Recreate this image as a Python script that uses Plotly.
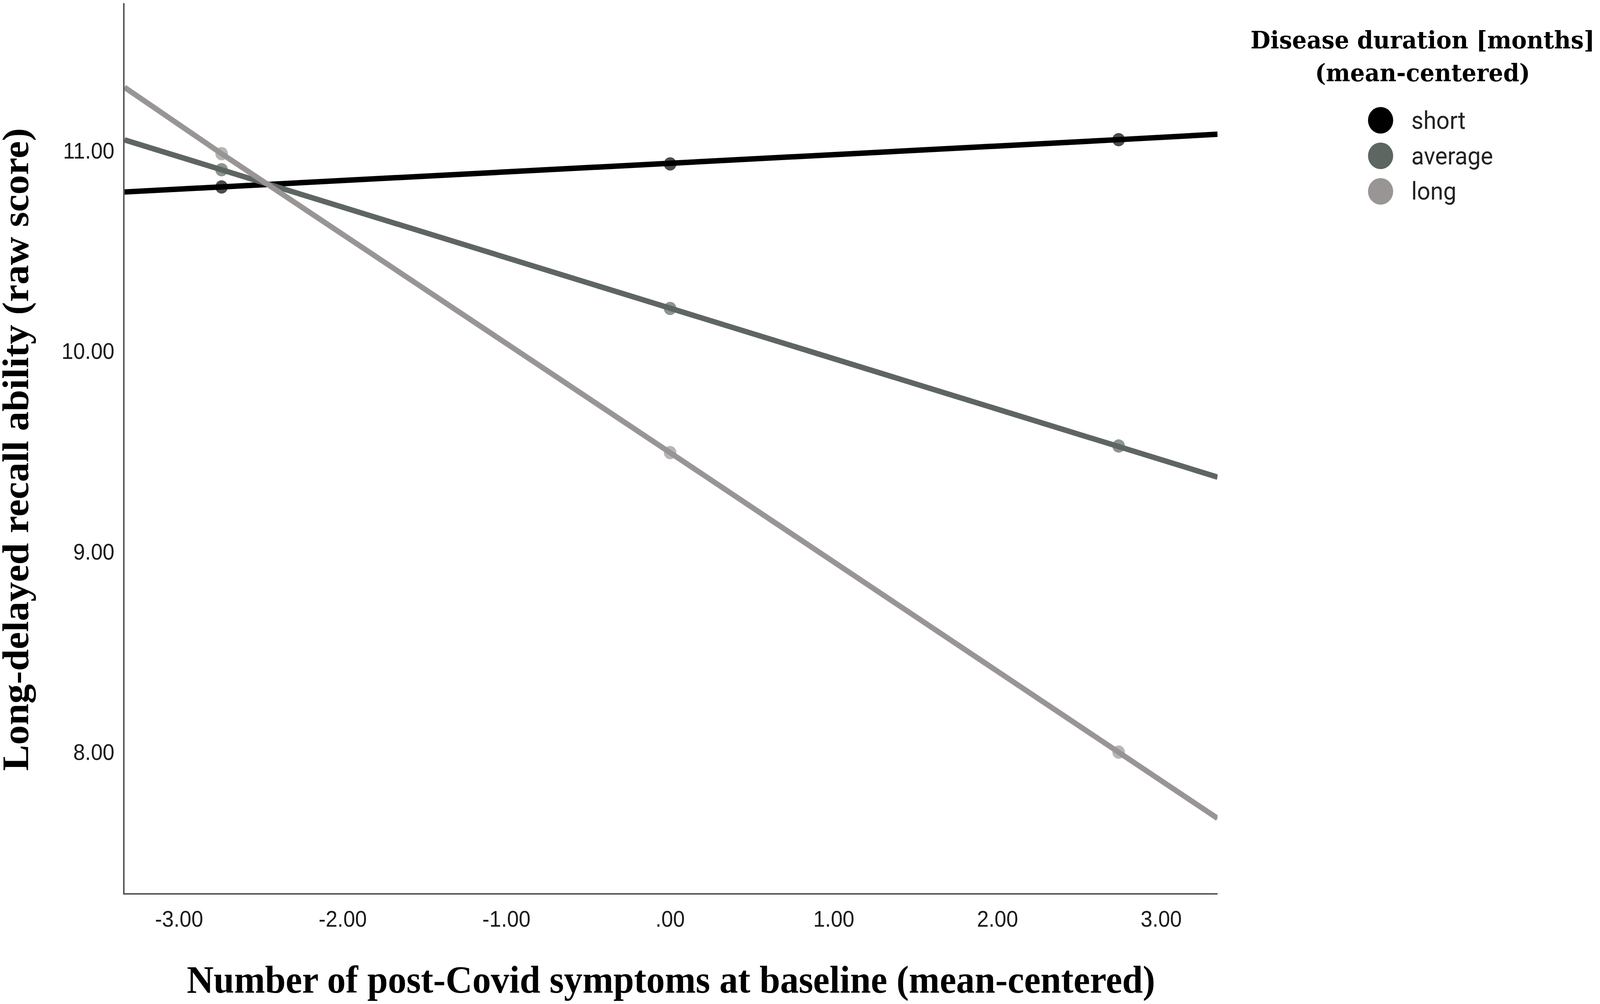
import plotly.graph_objects as go

# ---- data ----
x_vals = [-3.333, -2.74, 0.00, 2.74, 3.344]          # line spans the axis; markers at the 3 middle values
short_vals = [10.794, 10.819, 10.934, 11.055, 11.082]
average_vals = [11.054, 10.905, 10.213, 9.527, 9.372]
long_vals = [11.316, 10.985, 9.494, 8.000, 7.670]

groups = ["short", "average", "long"]
colors = ["#000000", "#5e6661", "#9a9595"]
series = [short_vals, average_vals, long_vals]

x_tickvals = [-3, -2, -1, 0, 1, 2, 3]
x_ticktext = ["-3.00", "-2.00", "-1.00", ".00", "1.00", "2.00", "3.00"]
y_tickvals = [8, 9, 10, 11]
y_ticktext = ["8.00", "9.00", "10.00", "11.00"]

x_title = "Number of post-Covid symptoms at baseline (mean-centered)"
y_title = "Long-delayed recall ability (raw score)"
legend_title = ["Disease duration [months]", "(mean-centered)"]

# ---- layout geometry (pixels) ----
W, H = 4317, 2571
L, R, T, B = 336, 3285, 8, 2287


def px(xp):
    return (xp - L) / (R - L)


def py(yp):
    return (B - yp) / (B - T)


fig = go.Figure()
msize = [0, 34, 34, 34, 0]
for name, col, vals in zip(groups, colors, series):
    fig.add_trace(go.Scatter(
        x=x_vals, y=vals, mode="lines+markers", name=name,
        line=dict(color=col, width=14),
        marker=dict(color=col, size=msize, line=dict(width=0)),
        showlegend=False, cliponaxis=False,
    ))

fig.update_layout(
    width=W, height=H,
    margin=dict(l=L, r=W - R, t=T, b=H - B, autoexpand=False),
    paper_bgcolor="white", plot_bgcolor="white",
    xaxis=dict(range=[-3.333, 3.344], showgrid=False, zeroline=False,
               showline=True, linecolor="#595959", linewidth=4,
               tickvals=x_tickvals, ticktext=x_ticktext, ticks="",
               ticklabelstandoff=14,
               tickfont=dict(family="Liberation Sans", size=57, color="#1a1a1a")),
    yaxis=dict(range=[7.297, 11.736], showgrid=False, zeroline=False,
               showline=True, linecolor="#595959", linewidth=4,
               tickvals=y_tickvals, ticktext=y_ticktext, ticks="",
               ticklabelstandoff=12,
               tickfont=dict(family="Liberation Sans", size=57, color="#1a1a1a")),
)

ann = []
ann.append(dict(text="<b>%s</b>" % x_title, x=0.5, y=py(2508), xref="paper", yref="paper",
                xanchor="center", yanchor="middle", showarrow=False,
                font=dict(family="Liberation Serif", size=100, color="black")))
ann.append(dict(text="<b>%s</b>" % y_title, x=px(42), y=py(1151), xref="paper", yref="paper",
                xanchor="center", yanchor="middle", showarrow=False, textangle=-90,
                font=dict(family="Liberation Serif", size=100, color="black")))
for line, yy in zip(legend_title, [102, 186]):
    ann.append(dict(text="<b>%s</b>" % line, x=px(3838), y=py(yy), xref="paper", yref="paper",
                    xanchor="center", yanchor="middle", showarrow=False,
                    font=dict(family="DejaVu Serif", size=62, color="black")))

shapes = []
leg_y = [308, 399, 490]
for name, col, yy in zip(groups, colors, leg_y):
    r = 34
    shapes.append(dict(type="circle", xref="paper", yref="paper",
                       x0=px(3725 - r), x1=px(3725 + r), y0=py(yy + r), y1=py(yy - r),
                       fillcolor=col, line=dict(width=0)))
    ann.append(dict(text=name, x=px(3806), y=py(yy), xref="paper", yref="paper",
                    xanchor="left", yanchor="middle", showarrow=False,
                    font=dict(family="Roboto", size=63, color="#222222")))

fig.update_layout(annotations=ann, shapes=shapes)

# fit the fixed-size figure into the page's visible area
post = """
document.body.style.margin = '0';
document.body.style.overflow = 'hidden';
var gd = document.getElementById('{plot_id}');
var sx = Math.min(1, window.innerWidth / %d), sy = Math.min(1, window.innerHeight / %d);
gd.style.transformOrigin = '0 0';
gd.style.transform = 'scale(' + sx + ',' + sy + ')';
""" % (W, H)

fig.write_html("out.html", post_script=post, config={"displayModeBar": False})
